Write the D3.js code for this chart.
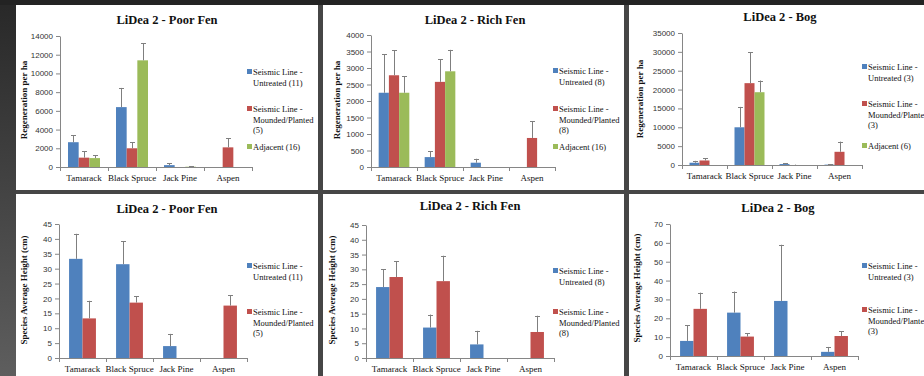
<!DOCTYPE html>
<html><head><meta charset="utf-8">
<script src="https://cdn.jsdelivr.net/npm/d3@7"></script>
<style>
html,body{margin:0;padding:0;background:#464646;overflow:hidden}
.serif{font-family:"Liberation Serif","Times New Roman","DejaVu Serif",serif}
.sans{font-family:"Liberation Sans",Arial,sans-serif}
</style>
</head><body>
<svg id="c" width="924" height="376"></svg>
<script>
const categories = ["Tamarack", "Black Spruce", "Jack Pine", "Aspen"];
const colors = ["#4F81BD", "#C0504D", "#9BBB59"];

// ---- Regeneration per ha ----
const poorFenRegenUntreated = [2650, 6400, 200, 0];
const poorFenRegenUntreatedErr = [750, 2050, 200, 0];
const poorFenRegenMounded = [1000, 2000, 0, 2100];
const poorFenRegenMoundedErr = [700, 650, 0, 950];
const poorFenRegenAdjacent = [950, 11400, 30, 0];
const poorFenRegenAdjacentErr = [300, 1850, 40, 0];
const poorFenRegenTicks = [0, 2000, 4000, 6000, 8000, 10000, 12000, 14000];

const richFenRegenUntreated = [2250, 300, 130, 0];
const richFenRegenUntreatedErr = [1170, 170, 120, 0];
const richFenRegenMounded = [2780, 2580, 0, 880];
const richFenRegenMoundedErr = [760, 690, 0, 510];
const richFenRegenAdjacent = [2250, 2900, 0, 0];
const richFenRegenAdjacentErr = [500, 650, 0, 0];
const richFenRegenTicks = [0, 500, 1000, 1500, 2000, 2500, 3000, 3500, 4000];

const bogRegenUntreated = [600, 10000, 250, 100];
const bogRegenUntreatedErr = [500, 5400, 150, 100];
const bogRegenMounded = [1200, 21700, 0, 3500];
const bogRegenMoundedErr = [600, 8200, 100, 2700];
const bogRegenAdjacent = [0, 19300, 0, 0];
const bogRegenAdjacentErr = [0, 3100, 0, 0];
const bogRegenTicks = [0, 5000, 10000, 15000, 20000, 25000, 30000, 35000];

// ---- Species average height (cm) ----
const poorFenHeightUntreated = [33.3, 31.5, 4.0, 0];
const poorFenHeightUntreatedErr = [8.4, 7.7, 4.1, 0];
const poorFenHeightMounded = [13.3, 18.6, 0, 17.6];
const poorFenHeightMoundedErr = [5.9, 2.1, 0, 3.5];
const poorFenHeightTicks = [0, 5, 10, 15, 20, 25, 30, 35, 40, 45];

const richFenHeightUntreated = [24.0, 10.3, 4.6, 0];
const richFenHeightUntreatedErr = [6.0, 4.4, 4.6, 0];
const richFenHeightMounded = [27.4, 26.0, 0, 8.8];
const richFenHeightMoundedErr = [5.4, 8.6, 0, 5.5];
const richFenHeightTicks = [0, 5, 10, 15, 20, 25, 30, 35, 40, 45];

const bogHeightUntreated = [8.0, 23.0, 29.2, 2.2];
const bogHeightUntreatedErr = [8.3, 11.2, 29.8, 2.6];
const bogHeightMounded = [25.0, 10.3, 0, 10.6];
const bogHeightMoundedErr = [8.6, 1.7, 0, 2.6];
const bogHeightTicks = [0, 10, 20, 30, 40, 50, 60, 70];

const svg = d3.select("#c");
const defs = svg.append("defs");
const grad = defs.append("linearGradient").attr("id", "lg").attr("x1", 0).attr("y1", 0).attr("x2", 0).attr("y2", 1);
grad.append("stop").attr("offset", "0%").attr("stop-color", "#282828");
grad.append("stop").attr("offset", "100%").attr("stop-color", "#5e5e5e");

svg.append("rect").attr("x", 0).attr("y", 0).attr("width", 924).attr("height", 376).attr("fill", "#464646");
svg.append("rect").attr("x", 0).attr("y", 0).attr("width", 16).attr("height", 376).attr("fill", "url(#lg)");
svg.append("rect").attr("x", 0).attr("y", 0).attr("width", 924).attr("height", 5).attr("fill", "#232323");

const panelBoxes = [
  [16, 5, 302, 185], [323, 5, 301, 185], [629, 5, 295, 185],
  [16, 194, 302, 182], [323, 194, 301, 182], [629, 194, 295, 182]
];
panelBoxes.forEach(b => svg.append("rect").attr("x", b[0]).attr("y", b[1]).attr("width", b[2]).attr("height", b[3]).attr("fill", "#fff"));

const panels = [
  { box: 0, title: "LiDea 2 - Poor Fen", yTitle: "Regeneration per ha", titleX: 167, titleY: 24,
    ax: 60, cw: 48, top: 36, bottom: 167, max: 14000, ticks: poorFenRegenTicks, yTitleX: 27, yTitleY: 100, catY: 181,
    vals: [poorFenRegenUntreated, poorFenRegenMounded, poorFenRegenAdjacent],
    errs: [poorFenRegenUntreatedErr, poorFenRegenMoundedErr, poorFenRegenAdjacentErr],
    legX: 247, legY: [72, 109, 147],
    legend: [["Seismic Line -", "Untreated (11)"], ["Seismic Line -", "Mounded/Planted", "(5)"], ["Adjacent (16)"]] },
  { box: 1, title: "LiDea 2 - Rich Fen", yTitle: "Regeneration per ha", titleX: 475, titleY: 24,
    ax: 371, cw: 46, top: 35, bottom: 167, max: 4000, ticks: richFenRegenTicks, yTitleX: 340, yTitleY: 100, catY: 181,
    vals: [richFenRegenUntreated, richFenRegenMounded, richFenRegenAdjacent],
    errs: [richFenRegenUntreatedErr, richFenRegenMoundedErr, richFenRegenAdjacentErr],
    legX: 553, legY: [71, 109, 147],
    legend: [["Seismic Line -", "Untreated (8)"], ["Seismic Line -", "Mounded/Planted", "(8)"], ["Adjacent (16)"]] },
  { box: 2, title: "LiDea 2 - Bog", yTitle: "Regeneration per ha", titleX: 780, titleY: 21,
    ax: 682, cw: 45, top: 33, bottom: 165, max: 35000, ticks: bogRegenTicks, yTitleX: 643, yTitleY: 99, catY: 179,
    vals: [bogRegenUntreated, bogRegenMounded, bogRegenAdjacent],
    errs: [bogRegenUntreatedErr, bogRegenMoundedErr, bogRegenAdjacentErr],
    legX: 862, legY: [67, 104, 146],
    legend: [["Seismic Line -", "Untreated (3)"], ["Seismic Line -", "Mounded/Planted", "(3)"], ["Adjacent (6)"]] },
  { box: 3, title: "LiDea 2 - Poor Fen", yTitle: "Species Average Height (cm)", titleX: 167, titleY: 213,
    ax: 59, cw: 47, top: 224, bottom: 358, max: 45, ticks: poorFenHeightTicks, yTitleX: 27, yTitleY: 290, catY: 372,
    vals: [poorFenHeightUntreated, poorFenHeightMounded],
    errs: [poorFenHeightUntreatedErr, poorFenHeightMoundedErr],
    legX: 247, legY: [266, 312],
    legend: [["Seismic Line -", "Untreated (11)"], ["Seismic Line -", "Mounded/Planted", "(5)"]] },
  { box: 4, title: "LiDea 2 - Rich Fen", yTitle: "Species Average Height (cm)", titleX: 470, titleY: 210,
    ax: 366, cw: 47, top: 225, bottom: 358, max: 45, ticks: richFenHeightTicks, yTitleX: 335, yTitleY: 290, catY: 372,
    vals: [richFenHeightUntreated, richFenHeightMounded],
    errs: [richFenHeightUntreatedErr, richFenHeightMoundedErr],
    legX: 553, legY: [271, 312],
    legend: [["Seismic Line -", "Untreated (8)"], ["Seismic Line -", "Mounded/Planted", "(8)"]] },
  { box: 5, title: "LiDea 2 - Bog", yTitle: "Species Average Height (cm)", titleX: 778, titleY: 212,
    ax: 670, cw: 47, top: 224, bottom: 356, max: 70, ticks: bogHeightTicks, yTitleX: 640, yTitleY: 288, catY: 370,
    vals: [bogHeightUntreated, bogHeightMounded],
    errs: [bogHeightUntreatedErr, bogHeightMoundedErr],
    legX: 862, legY: [266, 310],
    legend: [["Seismic Line -", "Untreated (3)"], ["Seismic Line -", "Mounded/Planted", "(3)"]] }
];

panels.forEach(p => {
  const b = panelBoxes[p.box];
  const clipId = "clip" + p.box;
  defs.append("clipPath").attr("id", clipId).append("rect").attr("x", b[0]).attr("y", b[1]).attr("width", b[2]).attr("height", b[3]);
  const g = svg.append("g").attr("clip-path", `url(#${clipId})`);

  const x = d3.scaleBand().domain(categories).range([p.ax, p.ax + p.cw * categories.length]);
  const y = d3.scaleLinear().domain([0, p.max]).range([p.bottom, p.top]);
  const nS = p.vals.length;
  const bw = x.bandwidth() / (nS + 1.5);
  const inner = d3.scaleBand().domain(d3.range(nS)).range([0.75 * bw, 0.75 * bw + nS * bw]);

  // title
  g.append("text").attr("class", "serif").attr("x", p.titleX).attr("y", p.titleY).attr("text-anchor", "middle")
    .attr("font-weight", "bold").attr("font-size", 12.5).attr("fill", "#111").text(p.title);

  // y-axis title
  g.append("text").attr("class", "serif").attr("transform", `translate(${p.yTitleX},${p.yTitleY}) rotate(-90)`).attr("text-anchor", "middle")
    .attr("font-weight", "bold").attr("font-size", 9).attr("fill", "#111").text(p.yTitle);

  // y axis
  const ya = g.append("g").attr("transform", `translate(${p.ax},0)`)
    .call(d3.axisLeft(y).tickValues(p.ticks).tickSize(4).tickSizeOuter(0).tickPadding(3).tickFormat(d3.format("d")));
  ya.attr("font-family", null).attr("font-size", null);
  ya.select(".domain").attr("stroke", "#868686");
  ya.selectAll(".tick line").attr("stroke", "#868686");
  ya.selectAll(".tick text").attr("class", "sans").attr("font-size", 8).attr("fill", "#333");

  // bars
  p.vals.forEach((arr, si) => {
    g.append("g").selectAll("rect").data(categories.map((c, i) => ({ c, v: arr[i] })))
      .join("rect")
      .attr("x", d => x(d.c) + inner(si)).attr("width", inner.bandwidth())
      .attr("y", d => y(d.v)).attr("height", d => y(0) - y(d.v))
      .attr("fill", colors[si]);
  });
  // error bars
  p.vals.forEach((arr, si) => {
    const eg = g.append("g").attr("stroke", "#7f7f7f").attr("stroke-width", 1).attr("fill", "none");
    categories.forEach((c, i) => {
      const v = arr[i], e = p.errs[si][i];
      if (v === 0 && e === 0) return;
      const cx = Math.round(x(c) + inner(si) + inner.bandwidth() / 2) + 0.5;
      eg.append("line").attr("x1", cx).attr("x2", cx).attr("y1", y(v)).attr("y2", y(v + e));
      eg.append("line").attr("x1", cx - 2.5).attr("x2", cx + 2.5).attr("y1", Math.round(y(v + e)) + 0.5).attr("y2", Math.round(y(v + e)) + 0.5);
    });
  });

  // x axis
  const xa = g.append("g").attr("transform", `translate(0,${p.bottom})`)
    .call(d3.axisBottom(x).tickSize(0).tickSizeOuter(0).tickPadding(8));
  xa.attr("font-family", null).attr("font-size", null);
  xa.select(".domain").attr("stroke", "#868686");
  xa.selectAll(".tick text").attr("class", "serif").attr("font-size", 9).attr("fill", "#111");
  const bounds = categories.map(c => x(c)).concat([x.range()[1]]);
  g.append("g").selectAll("line").data(bounds).join("line")
    .attr("x1", d => Math.round(d) + 0.5).attr("x2", d => Math.round(d) + 0.5)
    .attr("y1", p.bottom).attr("y2", p.bottom + 4).attr("stroke", "#868686");

  // legend
  p.legend.forEach((lines, li) => {
    const ly = p.legY[li];
    g.append("rect").attr("x", p.legX).attr("y", ly - 3).attr("width", 5).attr("height", 5).attr("fill", colors[li]);
    lines.forEach((t, k) => {
      g.append("text").attr("class", "serif").attr("x", p.legX + 6).attr("y", ly + k * 10.5 + 3)
        .attr("font-size", 8.5).attr("fill", "#111").text(t);
    });
  });
});
</script>
</body></html>
